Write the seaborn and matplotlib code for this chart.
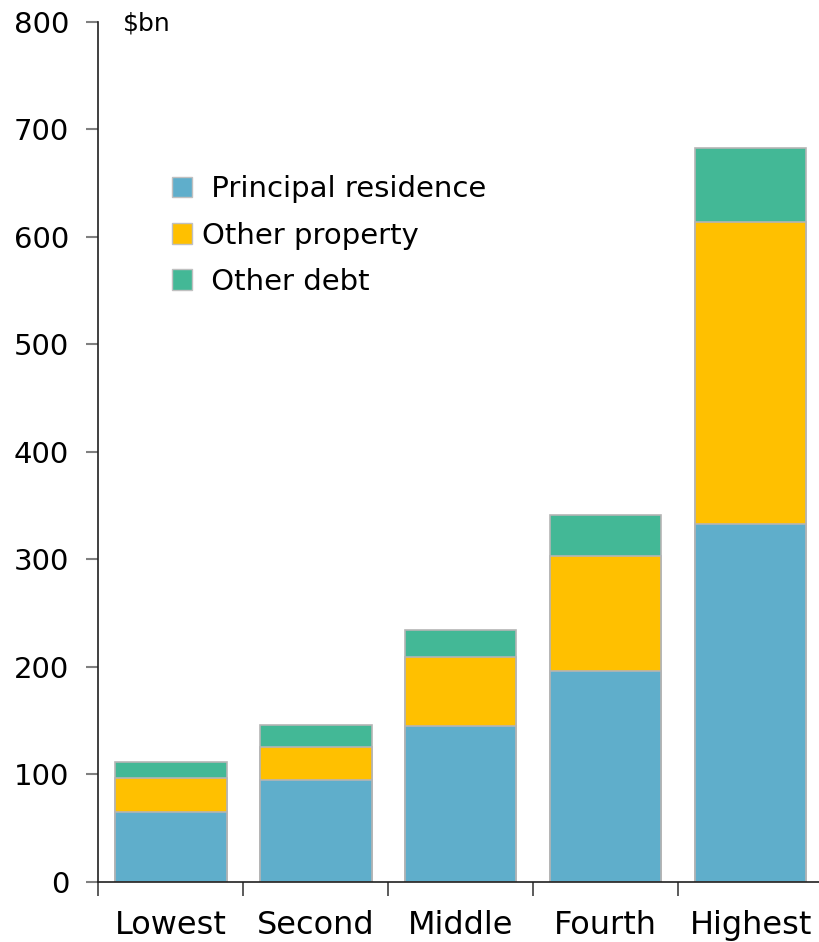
import matplotlib
matplotlib.use("Agg")
import matplotlib.pyplot as plt
import numpy as np
import pandas as pd
import seaborn as sns
from matplotlib.patches import Patch

# values ($bn)
quintiles = ["Lowest", "Second", "Middle", "Fourth", "Highest"]
principal_residence = [65, 95, 145, 196, 333]
other_property = [32, 31, 64, 107, 281]
other_debt = [15, 20, 25, 38, 69]

series_names = [" Principal residence", "Other property", " Other debt"]
colors = ["#5FAECB", "#FFC000", "#43B896"]

sns.set_style("white")
plt.rcParams["font.family"] = ["DejaVu Sans"]
plt.rcParams["text.color"] = "black"
plt.rcParams["xtick.labelcolor"] = "black"
plt.rcParams["ytick.labelcolor"] = "black"

df = pd.DataFrame({
    "quintile": quintiles,
    "pr": principal_residence,
    "op": other_property,
    "od": other_debt,
})
df["cum_pr"] = df["pr"]
df["cum_op"] = df["pr"] + df["op"]
df["cum_od"] = df["cum_op"] + df["od"]

fig = plt.figure(figsize=(8.19, 9.42), dpi=100)
ax = fig.add_axes([0.12, 0.0637, 0.885, 0.913])

# stacked bars: draw cumulative totals tallest first, then overlay
for col, color in zip(["cum_od", "cum_op", "cum_pr"], colors[::-1]):
    sns.barplot(data=df, x="quintile", y=col, color=color, width=0.77,
                edgecolor="#b5b5b5", linewidth=1.2, saturation=1, ax=ax)

ax.set_ylim(0, 800)
ax.set_xlim(-0.5, 4.5)
ax.set_yticks(np.arange(0, 801, 100))
ax.set_xlabel("")
ax.set_ylabel("")
ax.tick_params(axis="y", labelsize=21, length=9, width=1.5, color="#808080",
               labelcolor="black", direction="out", left=True, pad=12)
ax.set_xticks(np.arange(5))
ax.set_xticklabels(quintiles)
ax.tick_params(axis="x", which="major", length=0, labelsize=23, pad=20,
               labelcolor="black")
ax.set_xticks(np.arange(-0.5, 5, 1), minor=True)
ax.tick_params(axis="x", which="minor", length=10, width=1.2, color="#404040",
               direction="out", bottom=True)
for side in ["top", "right"]:
    ax.spines[side].set_visible(False)
for side in ["left", "bottom"]:
    ax.spines[side].set_color("#202020")
    ax.spines[side].set_linewidth(1.2)

ax.text(0.034, 0.998, "$bn", transform=ax.transAxes, fontsize=18,
        va="center", ha="left", color="black")

handles = [Patch(facecolor=c, edgecolor="#c0c0c0", label=n)
           for c, n in zip(colors, series_names)]
leg = ax.legend(handles=handles, loc="upper left", bbox_to_anchor=(0.065, 0.852),
                frameon=False, fontsize=21, handlelength=0.7, handleheight=0.7,
                handletextpad=0.35, labelspacing=0.62)
for t in leg.get_texts():
    t.set_color("black")

fig.savefig("out.png", dpi=100)
